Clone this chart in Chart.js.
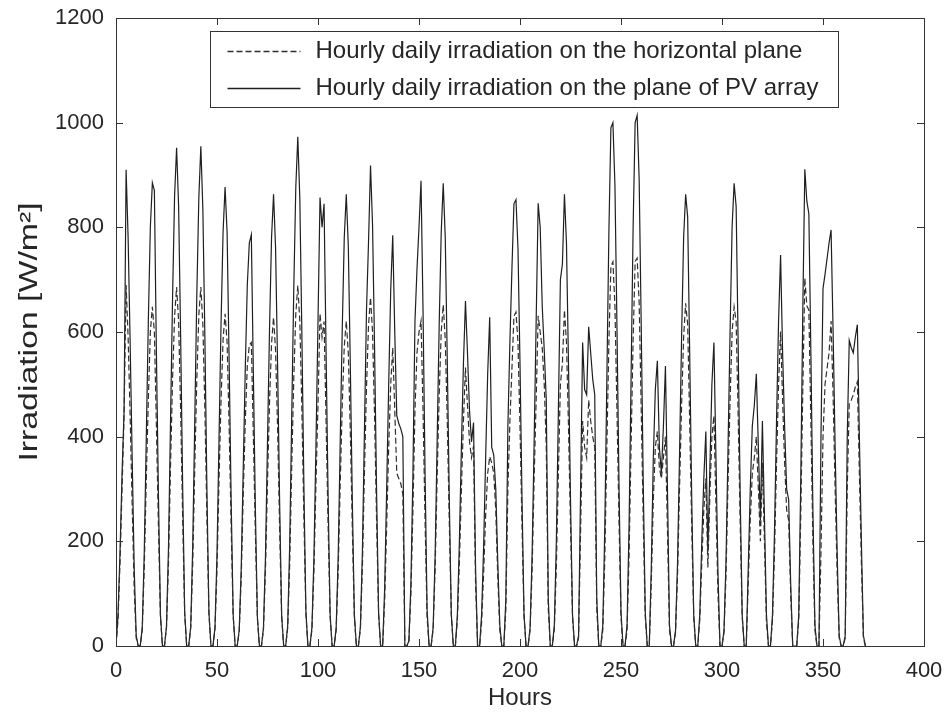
<!DOCTYPE html>
<html>
<head>
<meta charset="utf-8">
<title>Irradiation</title>
<script src="https://cdn.jsdelivr.net/npm/chart.js@4.4.0/dist/chart.umd.min.js"></script>
<style>
  body{margin:0;background:#fff;}
  #chart{display:block;}
</style>
</head>
<body>
<canvas id="chart" width="947" height="715"></canvas>
<script>
'use strict';
// one line = one day, 12 hourly values (W/m2)
let horizontalPlane=[
  0, 50, 160, 300, 440, 690, 590, 440, 270, 110, 15, 0,
  0, 30, 150, 320, 470, 600, 648, 600, 420, 230, 55, 0,
  0, 35, 160, 345, 510, 630, 686, 620, 450, 245, 60, 0,
  0, 34, 158, 343, 508, 632, 686, 615, 452, 247, 62, 0,
  0, 32, 146, 318, 470, 585, 635, 580, 420, 230, 57, 0,
  0, 28, 130, 290, 430, 535, 575, 580, 400, 215, 52, 0,
  0, 31, 145, 314, 465, 578, 628, 565, 415, 226, 56, 0,
  0, 34, 158, 345, 510, 634, 689, 620, 455, 248, 62, 0,
  0, 31, 145, 312, 460, 635, 590, 620, 430, 230, 56, 0,
  0, 30, 143, 310, 460, 572, 621, 560, 410, 223, 55, 0,
  0, 33, 153, 333, 493, 612, 666, 600, 440, 240, 60, 0,
  0, 85, 230, 380, 500, 570, 450, 330, 320, 310, 290, 0,
  0, 10, 100, 260, 450, 560, 600, 621, 450, 240, 55, 0,
  0, 32, 148, 325, 480, 600, 652, 585, 430, 235, 58, 0,
  0, 50, 160, 300, 430, 532, 460, 390, 360, 382, 120, 0,
  0, 45, 140, 250, 330, 362, 350, 330, 260, 130, 30, 0,
  0, 70, 300, 430, 530, 630, 638, 580, 420, 230, 55, 0,
  0, 30, 145, 320, 470, 631, 600, 570, 500, 380, 70, 0,
  0, 32, 150, 330, 500, 540, 642, 580, 420, 230, 55, 0,
  0, 15, 220, 430, 380, 360, 470, 430, 400, 380, 70, 0,
  0, 30, 170, 380, 580, 725, 734, 650, 450, 240, 55, 0,
  0, 30, 172, 385, 585, 735, 741, 655, 455, 242, 56, 0,
  0, 120, 280, 380, 410, 340, 320, 360, 400, 220, 30, 0,
  0, 26, 135, 305, 460, 590, 655, 615, 430, 230, 55, 0,
  0, 50, 160, 260, 320, 150, 290, 400, 440, 270, 100, 0,
  0, 26, 138, 315, 470, 600, 648, 620, 440, 235, 55, 0,
  0, 120, 240, 330, 360, 400, 300, 200, 350, 200, 45, 0,
  0, 50, 180, 350, 500, 601, 470, 350, 260, 240, 100, 0,
  0, 0, 50, 250, 490, 703, 650, 642, 430, 200, 30, 0,
  0, 180, 400, 500, 530, 560, 621, 480, 300, 140, 15, 0,
  0, 15, 300, 464, 470, 480, 495, 505, 330, 160, 15, 0
];
let pvPlane=[
  0, 60, 180, 330, 450, 910, 780, 580, 360, 150, 20, 0,
  0, 35, 180, 400, 620, 800, 885, 870, 560, 290, 60, 0,
  0, 38, 190, 430, 665, 860, 952, 840, 590, 305, 65, 0,
  0, 38, 195, 430, 670, 855, 955, 835, 590, 300, 65, 0,
  0, 35, 175, 395, 615, 790, 877, 790, 545, 280, 60, 0,
  0, 30, 150, 340, 530, 690, 770, 786, 520, 260, 55, 0,
  0, 35, 172, 390, 605, 780, 863, 760, 535, 275, 60, 0,
  0, 39, 195, 440, 680, 875, 973, 855, 600, 310, 68, 0,
  0, 35, 172, 385, 620, 857, 800, 845, 560, 285, 60, 0,
  0, 35, 172, 390, 605, 780, 863, 765, 535, 275, 60, 0,
  0, 37, 184, 413, 640, 770, 918, 805, 570, 295, 64, 0,
  0, 110, 300, 500, 680, 785, 600, 440, 425, 415, 400, 0,
  0, 10, 120, 330, 620, 720, 800, 889, 640, 330, 70, 0,
  0, 35, 175, 395, 615, 790, 884, 780, 545, 280, 60, 0,
  0, 60, 200, 380, 540, 659, 560, 450, 390, 427, 150, 0,
  0, 60, 190, 360, 520, 628, 380, 365, 300, 160, 40, 0,
  0, 90, 420, 580, 720, 845, 853, 760, 540, 280, 60, 0,
  0, 35, 175, 390, 620, 846, 800, 650, 565, 470, 90, 0,
  0, 40, 200, 450, 700, 730, 863, 770, 540, 280, 60, 0,
  0, 20, 300, 580, 490, 480, 610, 560, 510, 480, 90, 0,
  0, 40, 230, 510, 790, 990, 1000, 880, 610, 310, 65, 0,
  0, 40, 230, 515, 800, 1000, 1014, 890, 615, 315, 66, 0,
  0, 150, 360, 490, 545, 380, 330, 420, 535, 300, 40, 0,
  0, 30, 160, 370, 590, 780, 863, 820, 560, 285, 60, 0,
  0, 60, 200, 320, 410, 180, 340, 500, 580, 360, 140, 0,
  0, 30, 165, 380, 600, 800, 884, 840, 575, 290, 60, 0,
  0, 150, 300, 420, 460, 520, 380, 240, 430, 250, 60, 0,
  0, 60, 220, 430, 620, 747, 560, 420, 300, 280, 120, 0,
  0, 0, 60, 320, 640, 911, 850, 826, 560, 260, 40, 0,
  0, 400, 683, 710, 740, 770, 795, 600, 380, 180, 20, 0,
  0, 20, 400, 584, 570, 560, 590, 614, 400, 200, 20, 0
];
let xTicks=[0, 50, 100, 150, 200, 250, 300, 350, 400];
let yTicks=[0, 200, 400, 600, 800, 1000, 1200];
let seriesNames=['Hourly daily irradiation on the horizontal plane', 'Hourly daily irradiation on the plane of PV array'];
let xTitle='Hours';
let yTitle='Irradiation [W/m²]';

let fontFamily='"Liberation Sans", Arial, Helvetica, sans-serif';
let inkColor='#262626';

// hour index of every value
let hours=[];
for(let i=0;i<pvPlane.length;i++){
  hours[i]=i;
}

function toPoints(values){
  return values.map((v,i)=>({x:hours[i], y:v}));
}

// box around the plot, inward ticks on all four sides, the y title and the boxed legend
let framePlugin={
  id:'frame',
  afterDatasetsDraw(chart){
    let ctx=chart.ctx;
    let a=chart.chartArea;
    let xs=chart.scales.x;
    let ys=chart.scales.y;
    ctx.save();
    ctx.strokeStyle='#333';
    ctx.lineWidth=1;
    ctx.strokeRect(Math.round(a.left)+0.5, Math.round(a.top)+0.5, Math.round(a.right-a.left), Math.round(a.bottom-a.top));
    ctx.beginPath();
    xTicks.forEach(function(v){
      let px=Math.round(xs.getPixelForValue(v))+0.5;
      ctx.moveTo(px, a.bottom); ctx.lineTo(px, a.bottom-7);
      ctx.moveTo(px, a.top); ctx.lineTo(px, a.top+7);
    });
    yTicks.forEach(function(v){
      let py=Math.round(ys.getPixelForValue(v))+0.5;
      ctx.moveTo(a.left, py); ctx.lineTo(a.left+7, py);
      ctx.moveTo(a.right, py); ctx.lineTo(a.right-7, py);
    });
    ctx.stroke();

    // y title, a bit stretched along its length like the original figure
    ctx.save();
    ctx.translate(30, (a.top+a.bottom)/2);
    ctx.rotate(-Math.PI/2);
    ctx.scale(1.3, 1);
    ctx.font='26px '+fontFamily;
    ctx.fillStyle=inkColor;
    ctx.textAlign='center';
    ctx.textBaseline='middle';
    ctx.fillText(yTitle, 0, 0);
    ctx.restore();

    // legend
    let bx=Math.round(a.left)+94.5, by=Math.round(a.top)+13.5, bw=628, bh=76;
    ctx.fillStyle='#fff';
    ctx.fillRect(bx, by, bw, bh);
    ctx.strokeRect(bx, by, bw, bh);
    ctx.font='24px '+fontFamily;
    ctx.textBaseline='middle';
    ctx.textAlign='left';
    chart.data.datasets.forEach(function(ds,i){
      let ry=by+20+i*37;
      ctx.beginPath();
      ctx.strokeStyle=ds.borderColor;
      ctx.lineWidth=1.3;
      ctx.setLineDash(ds.borderDash || []);
      ctx.moveTo(bx+17, ry); ctx.lineTo(bx+90, ry);
      ctx.stroke();
      ctx.setLineDash([]);
      ctx.fillStyle=inkColor;
      ctx.fillText(ds.label, bx+105, ry);
    });
    ctx.restore();
  }
};

let chart=new Chart(document.getElementById('chart'), {
  type:'line',
  data:{
    datasets:[{
      label:seriesNames[0],
      data:toPoints(horizontalPlane),
      borderColor:'#2e2e2e',
      borderWidth:1.2,
      borderDash:[6,3],
      pointRadius:0,
      tension:0,
      fill:false
    },{
      label:seriesNames[1],
      data:toPoints(pvPlane),
      borderColor:'#1f1f1f',
      borderWidth:1.2,
      pointRadius:0,
      tension:0,
      fill:false
    }]
  },
  options:{
    responsive:false,
    animation:false,
    devicePixelRatio:1,
    layout:{padding:{top:18, right:23, left:0, bottom:0}},
    plugins:{legend:{display:false}, tooltip:{enabled:false}},
    scales:{
      x:{
        type:'linear',
        min:xTicks[0],
        max:xTicks[xTicks.length-1],
        afterFit(scale){ scale.height=69; scale.paddingLeft=0; scale.paddingRight=0; },
        grid:{display:false, drawTicks:false},
        border:{display:false},
        ticks:{stepSize:xTicks[1]-xTicks[0], padding:12, color:inkColor, maxRotation:0, autoSkip:false,
          font:{family:fontFamily, size:22}, callback:(v)=>String(v)},
        title:{display:true, text:xTitle, color:inkColor, font:{family:fontFamily, size:24}, padding:{top:0, bottom:2}}
      },
      y:{
        type:'linear',
        min:yTicks[0],
        max:yTicks[yTicks.length-1],
        afterFit(scale){ scale.width=116; scale.paddingTop=0; scale.paddingBottom=0; },
        grid:{display:false, drawTicks:false},
        border:{display:false},
        ticks:{stepSize:yTicks[1]-yTicks[0], padding:12, color:inkColor,
          font:{family:fontFamily, size:22}, callback:(v)=>String(v)},
        title:{display:false}
      }
    }
  },
  plugins:[framePlugin]
});
</script>
</body>
</html>
